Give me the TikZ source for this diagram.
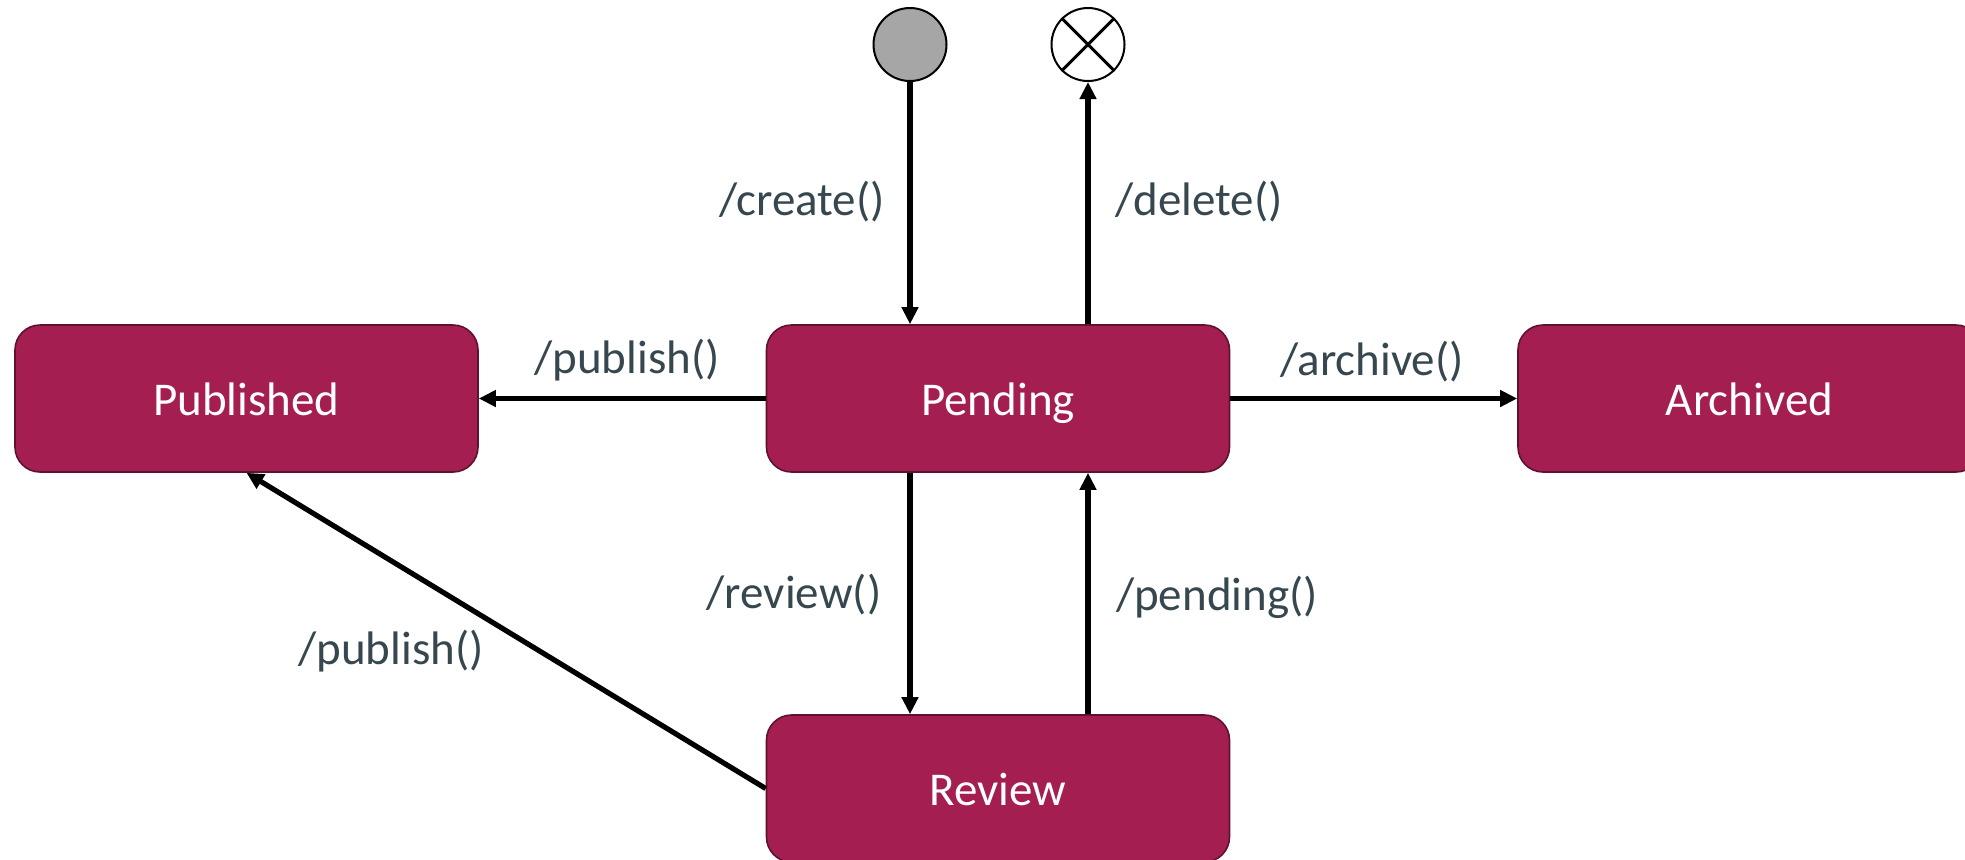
\documentclass[tikz,border=0pt]{standalone}
\usepackage{fontspec}
\setmainfont{Carlito}
\usetikzlibrary{arrows.meta}

\definecolor{stateFill}{RGB}{165,30,82}
\definecolor{stateLine}{RGB}{95,18,48}
\definecolor{labelText}{RGB}{55,71,79}

\begin{document}
\begin{tikzpicture}[x=0.5pt,y=0.5pt,yscale=-1,xscale=1,
  state/.style={draw=stateLine,line width=0.8pt,fill=stateFill,rounded corners=12.5pt,
    minimum width=231.5pt,minimum height=73.5pt,inner sep=0pt,text=white,
    text height=17pt,text depth=0pt,font=\fontsize{23.5}{28}\selectfont},
  trans/.style={line width=2.6pt,-{Triangle[length=8.5pt,width=8pt]}},
  lbl/.style={inner sep=0pt,text=labelText,font=\fontsize{23.5}{28}\selectfont}]
  \useasboundingbox (0,0) rectangle (1965,859);

  % States
  \node [state] (pub) at (246.5,398.5) {Published};
  \node [state] (pend) at (998,398.5) {Pending};
  \node [state] (arch) at (1749.5,398.5) {Archived};
  \node [state] (rev) at (998,788.5) {Review};

  % Initial and final pseudo states
  \node [circle,draw,line width=1pt,fill={rgb,255:red,166;green,166;blue,166},minimum size=36.5pt,inner sep=0pt] (init) at (910,44.5) {};
  \node [circle,draw,line width=1pt,fill=white,minimum size=36.5pt,inner sep=0pt] (fin) at (1088,44.5) {};
  \draw [line width=1.5pt] (fin.45) -- (fin.225) (fin.135) -- (fin.315);

  % Transitions
  \draw [trans] (init.south) -- (init.south |- pend.north);
  \draw [trans] (fin.south |- pend.north) -- (fin.south);
  \draw [trans] (pend.west) -- (pub.east);
  \draw [trans] (pend.east) -- (arch.west);
  \draw [trans] (init.south |- pend.south) -- (init.south |- rev.north);
  \draw [trans] (fin.south |- rev.north) -- (fin.south |- pend.south);
  \draw [trans] (rev.west) -- (pub.south);

  % Text Node
  \node [lbl] (lcreate) at (802,202) {/create()};
  % Text Node
  \node [lbl] (ldelete) at (1199,202) {/delete()};
  % Text Node
  \node [lbl] (lpublish) at (627,360) {/publish()};
  % Text Node
  \node [lbl] (larchive) at (1372,362) {/archive()};
  % Text Node
  \node [lbl] (lreview) at (794,595) {/review()};
  % Text Node
  \node [lbl] (lpending) at (1217,597) {/pending()};
  % Text Node
  \node [lbl] (lpublishb) at (391,651) {/publish()};

\end{tikzpicture}
\end{document}
